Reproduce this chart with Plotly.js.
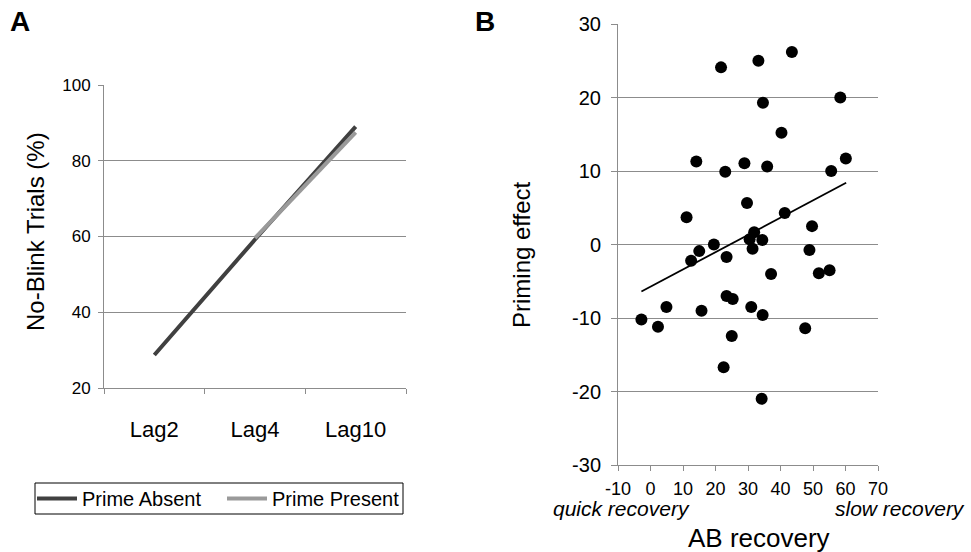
<!DOCTYPE html>
<html>
<head>
<meta charset="utf-8">
<script src="https://cdn.plot.ly/plotly-3.0.1.min.js"></script>
<style>
html,body{margin:0;padding:0;background:#fff;}
#chart{width:971px;height:552px;}
</style>
</head>
<body>
<div id="chart"></div>
<script>
// Panel A data
const lags = ["Lag2", "Lag4", "Lag10"];
const primeAbsent = [28.7, 59.2, 89.0];
const primePresent = [null, 59.6, 87.5];

// Panel B data (AB recovery vs priming effect)
const abRecovery = [21.7, 33.2, 43.5, 58.4, 34.6, 40.3, 14.1, 23.0, 28.9, 35.9,
  55.6, 60.1, 29.7, 11.1, 41.3, 49.7, 31.9, 30.5, 34.4, 19.5,
  15.0, 31.4, 48.9, 12.5, 23.4, 37.1, 51.8, 55.1, 23.4, 25.3,
  4.9, 15.7, 31.0, 34.5, -2.8, 2.3, 47.6, 25.0, 22.5, 34.2];
const primingEffect = [24.1, 25.0, 26.2, 20.0, 19.3, 15.2, 11.3, 9.9, 11.05, 10.6,
  10.0, 11.7, 5.65, 3.7, 4.3, 2.5, 1.66, 0.7, 0.6, 0.0,
  -0.9, -0.57, -0.75, -2.2, -1.7, -4.0, -3.9, -3.5, -7.0, -7.4,
  -8.5, -9.0, -8.5, -9.6, -10.2, -11.2, -11.4, -12.45, -16.7, -21.0];
// trend line
const fitX = [-2.8, 60.2];
const fitY = [-6.4, 8.4];

// Panel B tick labels (hyphen-minus as in the original)
const bXTickVals = [-10, 0, 10, 20, 30, 40, 50, 60, 70];
const bXTickText = ["-10", "0", "10", "20", "30", "40", "50", "60", "70"];
const bYTickVals = [-30, -20, -10, 0, 10, 20, 30];
const bYTickText = ["-30", "-20", "-10", "0", "10", "20", "30"];

const W = 971, H = 552;
const px = v => v / W;
const py = v => 1 - v / H;
const FONT = "Liberation Sans, Arial, sans-serif";
const GRID = "#8c8c8c";

const traces = [
  {x: lags, y: primeAbsent, type: "scatter", mode: "lines", name: "Prime Absent",
   line: {color: "#404040", width: 4}, xaxis: "x", yaxis: "y", legend: "legend"},
  {x: lags, y: primePresent, type: "scatter", mode: "lines", name: "Prime Present",
   line: {color: "#9a9a9a", width: 4}, xaxis: "x", yaxis: "y", legend: "legend2"},
  {x: abRecovery, y: primingEffect, type: "scatter", mode: "markers", showlegend: false,
   marker: {color: "#000", size: 12}, xaxis: "x2", yaxis: "y2"},
  {x: fitX, y: fitY, type: "scatter", mode: "lines", showlegend: false,
   line: {color: "#000", width: 1.8}, xaxis: "x2", yaxis: "y2"}
];

const legendBase = {
  yanchor: "middle", xanchor: "left", orientation: "h",
  borderwidth: 0, bgcolor: "rgba(0,0,0,0)", itemwidth: 40,
  font: {family: FONT, size: 20, color: "#000"}
};

const layout = {
  width: W, height: H,
  margin: {l: 0, r: 0, t: 0, b: 0},
  paper_bgcolor: "#fff", plot_bgcolor: "#fff",
  font: {family: FONT, color: "#000"},
  showlegend: true,
  legend: Object.assign({}, legendBase, {x: px(32), y: py(498.5)}),
  legend2: Object.assign({}, legendBase, {x: px(222), y: py(498.5)}),
  shapes: [
    {type: "rect", xref: "paper", yref: "paper",
     x0: px(35), x1: px(403), y0: py(514), y1: py(483),
     line: {color: "#000", width: 1}, fillcolor: "rgba(0,0,0,0)"}
  ],
  xaxis: {
    domain: [px(104), px(406)], anchor: "y",
    type: "category", range: [-0.5, 2.5],
    showline: true, linecolor: GRID, linewidth: 1,
    ticks: "outside", tickson: "boundaries", ticklen: 5, tickcolor: GRID,
    showgrid: false, zeroline: false,
    tickfont: {family: FONT, size: 22, color: "#000"},
    ticklabelstandoff: 22, fixedrange: true
  },
  yaxis: {
    domain: [py(388), py(85)], anchor: "x",
    range: [20, 100], dtick: 20, tick0: 0,
    showline: true, linecolor: GRID, linewidth: 1,
    ticks: "outside", ticklen: 5, tickcolor: GRID,
    showgrid: true, gridcolor: GRID, gridwidth: 1, zeroline: false,
    tickfont: {family: FONT, size: 17, color: "#000"},
    ticklabelstandoff: 4, fixedrange: true
  },
  xaxis2: {
    domain: [px(618), px(878)], anchor: "y2",
    range: [-10, 70], tickmode: "array", tickvals: bXTickVals, ticktext: bXTickText,
    showline: true, linecolor: GRID, linewidth: 1,
    ticks: "outside", ticklen: 5, tickcolor: GRID,
    showgrid: false, zeroline: false,
    tickfont: {family: FONT, size: 18, color: "#000"},
    ticklabelstandoff: 2, fixedrange: true
  },
  yaxis2: {
    domain: [py(465), py(24)], anchor: "x2",
    range: [-30, 30], tickmode: "array", tickvals: bYTickVals, ticktext: bYTickText,
    showline: true, linecolor: GRID, linewidth: 1,
    ticks: "outside", ticklen: 6, tickcolor: GRID,
    showgrid: true, gridcolor: GRID, gridwidth: 1, zeroline: false,
    tickfont: {family: FONT, size: 20, color: "#000"},
    ticklabelstandoff: 6, fixedrange: true
  },
  annotations: [
    {text: "<b>A</b>", xref: "paper", yref: "paper", x: px(8), y: py(22),
     xanchor: "left", yanchor: "middle", showarrow: false,
     font: {family: FONT, size: 28, color: "#000"}},
    {text: "<b>B</b>", xref: "paper", yref: "paper", x: px(473), y: py(22),
     xanchor: "left", yanchor: "middle", showarrow: false,
     font: {family: FONT, size: 28, color: "#000"}},
    {text: "No-Blink Trials (%)", xref: "paper", yref: "paper", x: px(35), y: py(232),
     xanchor: "center", yanchor: "middle", textangle: -90, showarrow: false,
     font: {family: FONT, size: 24, color: "#000"}},
    {text: "Priming effect", xref: "paper", yref: "paper", x: px(522), y: py(255),
     xanchor: "center", yanchor: "middle", textangle: -90, showarrow: false,
     font: {family: FONT, size: 24, color: "#000"}},
    {text: "<i>quick recovery</i>", xref: "paper", yref: "paper", x: px(551), y: py(508),
     xanchor: "left", yanchor: "middle", showarrow: false,
     font: {family: FONT, size: 21, color: "#000"}},
    {text: "<i>slow recovery</i>", xref: "paper", yref: "paper", x: px(967), y: py(508),
     xanchor: "right", yanchor: "middle", showarrow: false,
     font: {family: FONT, size: 21, color: "#000"}},
    {text: "AB recovery", xref: "paper", yref: "paper", x: px(759), y: py(538),
     xanchor: "center", yanchor: "middle", showarrow: false,
     font: {family: FONT, size: 26, color: "#000"}}
  ]
};

Plotly.newPlot("chart", traces, layout, {displayModeBar: false, staticPlot: true});
</script>
</body>
</html>
